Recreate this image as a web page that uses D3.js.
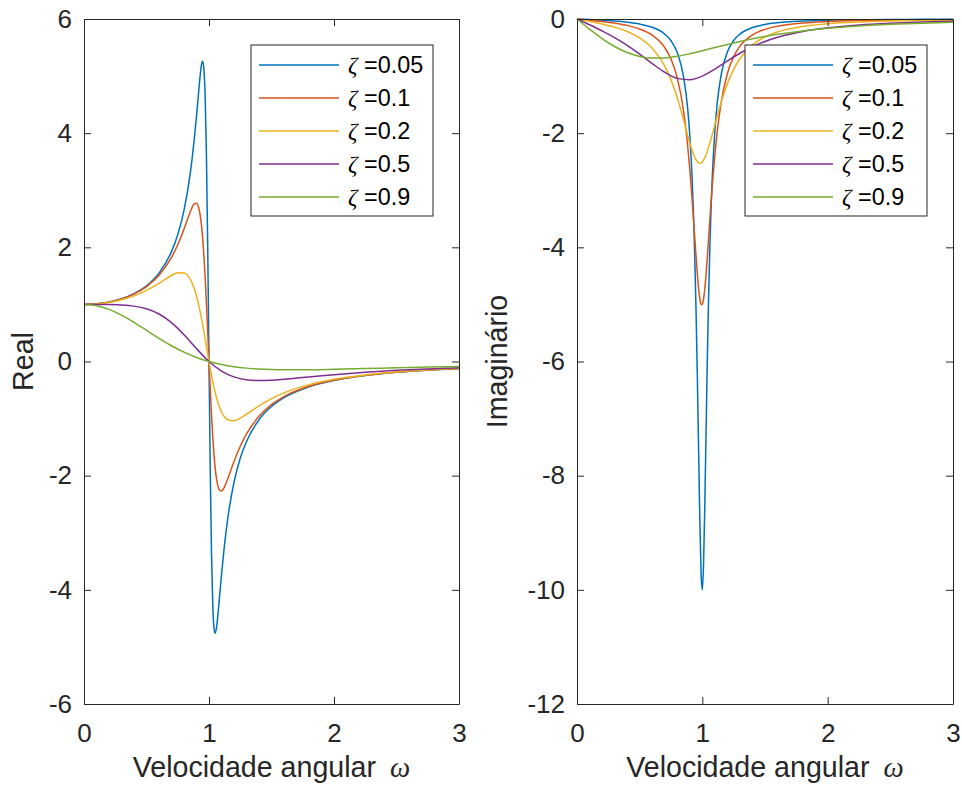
<!DOCTYPE html>
<html>
<head>
<meta charset="utf-8">
<script src="https://cdn.jsdelivr.net/npm/d3@7"></script>
<style>
  body { margin: 0; background: #fff; }
  svg { display: block; font-family: "Liberation Sans", Arial, sans-serif; }
  .axis path, .axis line { stroke: #262626; }
  .axis text { fill: #262626; font-size: 26px; font-family: "Liberation Sans", Arial, sans-serif; }
  .axis-label { fill: #262626; font-size: 28.6px; }
  .legend text { fill: #000; font-size: 23.4px; }
  .greek { font-family: "Liberation Serif", "DejaVu Serif", serif; font-style: italic; }
</style>
</head>
<body>
<svg id="chart" width="962" height="793"></svg>
<script>
// ---- data (real / imaginary part vs omega) ----
const zetas = [0.05, 0.1, 0.2, 0.5, 0.9];

const omegaFine = [0, 0.1, 0.2, 0.3, 0.4, 0.5, 0.6, 0.7, 0.75, 0.8, 0.85, 0.88, 0.9,
  0.92, 0.93, 0.94, 0.95, 0.96, 0.97, 0.98, 0.99, 1.0, 1.01, 1.02, 1.03, 1.04, 1.05,
  1.06, 1.07, 1.08, 1.1, 1.12, 1.15, 1.2, 1.25, 1.3, 1.4, 1.5, 1.6, 1.8, 2.0, 2.25,
  2.5, 2.75, 3.0];
const omegaCoarse = [0, 0.1, 0.2, 0.3, 0.4, 0.5, 0.6, 0.7, 0.8, 0.9, 1.0, 1.1, 1.2,
  1.3, 1.4, 1.5, 1.6, 1.8, 2.0, 2.25, 2.5, 2.75, 3.0];

const realZ005 = [1, 1.010, 1.041, 1.098, 1.188, 1.327, 1.549, 1.925, 2.220, 2.647,
  3.294, 3.847, 4.299, 4.792, 5.022, 5.200, 5.262, 5.103, 4.581, 3.545, 1.952, 0,
  -1.895, -3.357, -4.254, -4.670, -4.761, -4.662, -4.466, -4.228, -3.737, -3.293,
  -2.751, -2.115, -1.694, -1.400, -1.020, -0.789, -0.634, -0.444, -0.332, -0.245,
  -0.190, -0.152, -0.125];
const imagZ005 = [0, -0.010, -0.022, -0.036, -0.057, -0.089, -0.145, -0.264, -0.381,
  -0.588, -1.009, -1.501, -2.036, -2.870, -3.457, -4.199, -5.127, -6.249, -7.518,
  -8.772, -9.709, -10, -9.524, -8.474, -7.194, -5.952, -4.877, -3.998, -3.298, -2.744,
  -1.957, -1.450, -0.981, -0.577, -0.377, -0.264, -0.149, -0.095, -0.065, -0.036,
  -0.022, -0.014, -0.009, -0.006, -0.005];

const realZ01 = [1, 1.010, 1.040, 1.094, 1.180, 1.310, 1.509, 1.823, 2.045, 2.320,
  2.620, 2.756, 2.774, 2.674, 2.556, 2.381, 2.138, 1.823, 1.437, 0.990, 0.503, 0,
  -0.488, -0.934, -1.320, -1.635, -1.877, -2.052, -2.169, -2.238, -2.270, -2.214,
  -2.055, -1.752, -1.485, -1.269, -0.960, -0.756, -0.615, -0.435, -0.328, -0.243,
  -0.189, -0.151, -0.124];
const imagZ01 = [0, -0.020, -0.043, -0.072, -0.112, -0.175, -0.283, -0.501, -0.701,
  -1.031, -1.605, -2.150, -2.628, -3.203, -3.520, -3.845, -4.166, -4.464, -4.717,
  -4.902, -5.000, -5, -4.902, -4.717, -4.464, -4.166, -3.846, -3.520, -3.204, -2.905,
  -2.378, -1.950, -1.466, -0.955, -0.660, -0.478, -0.280, -0.182, -0.126, -0.070,
  -0.044, -0.027, -0.018, -0.013, -0.009];

const realZ02 = [1, 1.009, 1.034, 1.080, 1.149, 1.245, 1.370, 1.507, 1.555, 1.552,
  1.441, 1.291, 1.147, 0.966, 0.863, 0.751, 0.634, 0.510, 0.384, 0.255, 0.127, 0,
  -0.123, -0.240, -0.351, -0.454, -0.548, -0.634, -0.710, -0.776, -0.884, -0.959,
  -1.022, -1.038, -0.993, -0.924, -0.777, -0.650, -0.549, -0.405, -0.311, -0.235,
  -0.184, -0.148, -0.122];
const imagZ02 = [0, -0.041, -0.086, -0.142, -0.219, -0.332, -0.514, -0.827, -1.066,
  -1.379, -1.765, -2.014, -2.173, -2.314, -2.375, -2.427, -2.469, -2.500, -2.519,
  -2.525, -2.519, -2.5, -2.469, -2.427, -2.375, -2.315, -2.247, -2.174, -2.096, -2.016,
  -1.851, -1.688, -1.458, -1.132, -0.883, -0.697, -0.453, -0.312, -0.225, -0.130,
  -0.083, -0.052, -0.035, -0.025, -0.018];

const realZ05 = [1, 1.000, 0.998, 0.991, 0.970, 0.923, 0.832, 0.680, 0.468, 0.225, 0,
  -0.167, -0.269, -0.319, -0.333, -0.328, -0.312, -0.271, -0.231, -0.188, -0.155,
  -0.130, -0.110];
const imagZ05 = [0, -0.101, -0.208, -0.327, -0.462, -0.615, -0.780, -0.933, -1.040,
  -1.064, -1, -0.877, -0.735, -0.600, -0.486, -0.393, -0.320, -0.218, -0.154, -0.104,
  -0.074, -0.054, -0.041];

const realZ09 = [1, 0.978, 0.913, 0.813, 0.686, 0.546, 0.406, 0.276, 0.163, 0.071, 0,
  -0.053, -0.091, -0.116, -0.132, -0.141, -0.145, -0.144, -0.137, -0.124, -0.110,
  -0.097, -0.086];
const imagZ09 = [0, -0.178, -0.343, -0.482, -0.588, -0.656, -0.685, -0.682, -0.654,
  -0.609, -0.556, -0.499, -0.445, -0.393, -0.347, -0.305, -0.269, -0.209, -0.164,
  -0.123, -0.094, -0.073, -0.058];

const xTicks = [0, 1, 2, 3];
const realTicks = [-6, -4, -2, 0, 2, 4, 6];
const imagTicks = [-12, -10, -8, -6, -4, -2, 0];

const colours = ["#0072BD", "#D95319", "#EDB120", "#7E2F8E", "#77AC30"];

const series = [
  { omega: omegaFine,   re: realZ005, im: imagZ005 },
  { omega: omegaFine,   re: realZ01,  im: imagZ01 },
  { omega: omegaFine,   re: realZ02,  im: imagZ02 },
  { omega: omegaCoarse, re: realZ05,  im: imagZ05 },
  { omega: omegaCoarse, re: realZ09,  im: imagZ09 }
].map((s, i) => ({ ...s, zeta: zetas[i], colour: colours[i] }));

// ---- layout ----
const plotTop = 19, plotBottom = 704, tick = 7;
const panels = [
  { left: 84,  right: 459, domain: [-6, 6],  ticks: realTicks, key: "re", label: "Real",       labelX: 33 },
  { left: 577, right: 953, domain: [-12, 0], ticks: imagTicks, key: "im", label: "Imaginário", labelX: 507 }
];

// plain hyphen for negatives, like the original
const fmtTick = d => String(d);

const svg = d3.select("#chart");

panels.forEach(p => {
  const x = d3.scaleLinear().domain([0, 3]).range([p.left, p.right]);
  const y = d3.scaleLinear().domain(p.domain).range([plotBottom, plotTop]);
  const g = svg.append("g");

  // curves
  const line = d3.line()
    .x(d => x(d[0]))
    .y(d => y(d[1]))
    .curve(d3.curveMonotoneX);

  series.forEach(s => {
    g.append("path")
      .datum(s.omega.map((w, i) => [w, s[p.key][i]]))
      .attr("fill", "none")
      .attr("stroke", s.colour)
      .attr("stroke-width", 1.5)
      .attr("d", line);
  });

  // box axes, ticks pointing inward
  g.append("g").attr("class", "axis")
    .attr("transform", `translate(0,${plotBottom})`)
    .call(d3.axisBottom(x).tickValues(xTicks).tickSize(-tick).tickSizeOuter(0).tickPadding(20).tickFormat(fmtTick));
  g.append("g").attr("class", "axis")
    .attr("transform", `translate(0,${plotTop})`)
    .call(d3.axisTop(x).tickValues(xTicks).tickSize(-tick).tickSizeOuter(0).tickFormat(""));
  g.append("g").attr("class", "axis")
    .attr("transform", `translate(${p.left},0)`)
    .call(d3.axisLeft(y).tickValues(p.ticks).tickSize(-tick).tickSizeOuter(0).tickPadding(12).tickFormat(fmtTick));
  g.append("g").attr("class", "axis")
    .attr("transform", `translate(${p.right},0)`)
    .call(d3.axisRight(y).tickValues(p.ticks).tickSize(-tick).tickSizeOuter(0).tickFormat(""));

  // axis labels
  const xl = g.append("text")
    .attr("class", "axis-label")
    .attr("text-anchor", "middle")
    .attr("x", (p.left + p.right) / 2)
    .attr("y", 777);
  xl.append("tspan").text("Velocidade angular");
  xl.append("tspan").attr("class", "greek").attr("dx", 14).text("ω");

  g.append("text")
    .attr("class", "axis-label")
    .attr("text-anchor", "middle")
    .attr("transform", `translate(${p.labelX},${(plotTop + plotBottom) / 2}) rotate(-90)`)
    .text(p.label);

  // legend (top right corner)
  const boxW = 182, boxH = 171;
  const lg = g.append("g")
    .attr("class", "legend")
    .attr("transform", `translate(${p.right - 26 - boxW},${plotTop + 26})`);
  lg.append("rect")
    .attr("width", boxW).attr("height", boxH)
    .attr("fill", "#fff").attr("stroke", "#262626").attr("stroke-width", 1);

  const rows = lg.selectAll(".row").data(series).enter()
    .append("g").attr("class", "row")
    .attr("transform", (d, i) => `translate(0,${20 + i * 33})`);
  rows.append("line")
    .attr("x1", 8).attr("x2", 88)
    .attr("stroke", d => d.colour).attr("stroke-width", 1.5);
  const t = rows.append("text").attr("x", 97).attr("y", 8);
  t.append("tspan").attr("class", "greek").text("ζ");
  t.append("tspan").text(d => " =" + d.zeta);
});
</script>
</body>
</html>
